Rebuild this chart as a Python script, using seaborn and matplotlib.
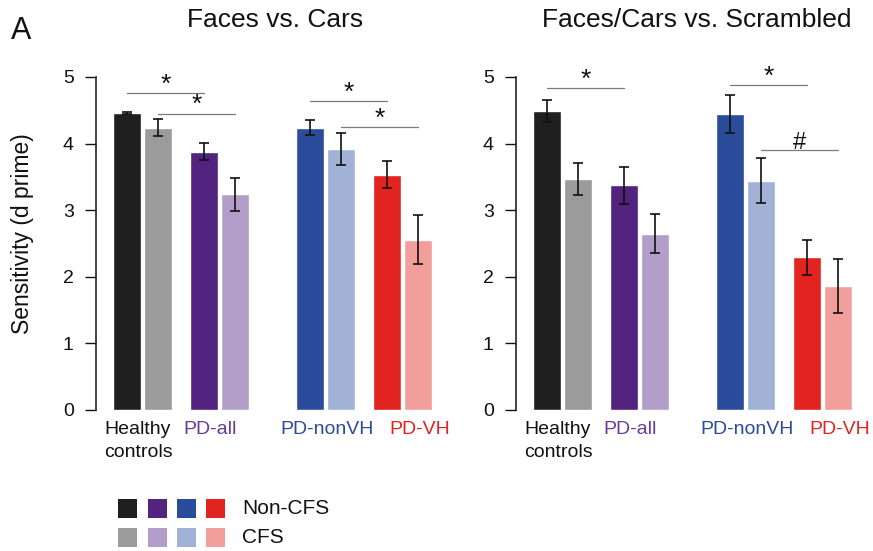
import numpy as np
import pandas as pd
import matplotlib
matplotlib.use("Agg")
import matplotlib.pyplot as plt
import seaborn as sns
from matplotlib.patches import Rectangle

# ---------------- data ----------------
groups = ["Healthy\ncontrols", "PD-all", "PD-nonVH", "PD-VH"]
conditions = ["Non-CFS", "CFS"]
panel_titles = ["Faces vs. Cars", "Faces/Cars vs. Scrambled"]

# Faces vs. Cars
fc_noncfs = [4.46, 3.88, 4.24, 3.535]
fc_noncfs_err = [0.012, 0.13, 0.11, 0.205]
fc_cfs = [4.24, 3.24, 3.92, 2.56]
fc_cfs_err = [0.13, 0.25, 0.24, 0.37]

# Faces/Cars vs. Scrambled
fs_noncfs = [4.49, 3.375, 4.45, 2.29]
fs_noncfs_err = [0.17, 0.275, 0.285, 0.265]
fs_cfs = [3.47, 2.65, 3.445, 1.86]
fs_cfs_err = [0.24, 0.30, 0.335, 0.41]

# significance brackets: (group_a, group_b, condition, height, label)
fc_sig = [(0, 1, "Non-CFS", 4.76, "*"), (0, 1, "CFS", 4.45, "*"),
          (2, 3, "Non-CFS", 4.64, "*"), (2, 3, "CFS", 4.25, "*")]
fs_sig = [(0, 1, "Non-CFS", 4.83, "*"), (2, 3, "Non-CFS", 4.88, "*"),
          (2, 3, "CFS", 3.90, "#")]

noncfs_colors = ["#1f1f1f", "#52237f", "#2b4c9b", "#e2231f"]
cfs_colors = ["#9b9b9b", "#b39dc9", "#a2b1d6", "#f29f9b"]
label_colors = ["#111111", "#6a3a9a", "#2b4c9b", "#e2231f"]

# ---------------- style ----------------
sns.set_theme(style="white")
FONT = ["Liberation Sans", "DejaVu Sans"]
plt.rcParams["font.family"] = FONT
plt.rcParams["text.color"] = "#111111"
plt.rcParams["ytick.labelcolor"] = "#111111"

W, H = 873, 551
fig = plt.figure(figsize=(W / 100, H / 100), dpi=100)

group_start = [0.0, 2.48, 5.9, 8.38]   # layout positions of the pairs
label_shift = [-0.12, -0.3, 0.05, 0.57]
px_unit = 31.0
xlim = (-1.0, 10.4)
ax_w = (xlim[1] - xlim[0]) * px_unit
y0_px, y5_px = 410, 77

palette = {}
for g, c1, c2 in zip(groups, noncfs_colors, cfs_colors):
    palette[g + "|Non-CFS"] = c1
    palette[g + "|CFS"] = c2


def build(non, non_err, cfs, cfs_err):
    rows = []
    for i, g in enumerate(groups):
        rows.append(dict(group=g, cond="Non-CFS", pos=group_start[i],
                         value=non[i], err=non_err[i]))
        rows.append(dict(group=g, cond="CFS", pos=group_start[i] + 1.0,
                         value=cfs[i], err=cfs_err[i]))
    df = pd.DataFrame(rows)
    df["key"] = df["group"] + "|" + df["cond"]
    return df


panels = [
    (build(fc_noncfs, fc_noncfs_err, fc_cfs, fc_cfs_err), fc_sig, 96),
    (build(fs_noncfs, fs_noncfs_err, fs_cfs, fs_cfs_err), fs_sig, 516),
]

for (df, sig, left_px), title in zip(panels, panel_titles):
    ax = fig.add_axes([left_px / W, (H - y0_px) / H, ax_w / W, (y0_px - y5_px) / H])
    sns.barplot(data=df, x="pos", y="value", hue="key", palette=palette,
                dodge=False, native_scale=True, width=0.9, saturation=1,
                errorbar=None, legend=False, ax=ax)
    ax.errorbar(df["pos"], df["value"], yerr=df["err"], fmt="none",
                ecolor="#111111", elinewidth=1.2, capsize=3.5, capthick=1.2)
    ax.set_xlim(*xlim)
    ax.set_ylim(0, 5)
    ax.set_yticks([0, 1, 2, 3, 4, 5])
    ax.set_yticklabels(["0", "1", "2", "3", "4", "5"])
    ax.set_xticks([])
    ax.set_xlabel("")
    ax.set_ylabel("")
    for s in ["top", "right", "bottom"]:
        ax.spines[s].set_visible(False)
    ax.spines["left"].set_color("#111111")
    ax.spines["left"].set_linewidth(1.1)
    ax.tick_params(axis="y", direction="out", length=8, width=1.0,
                   color="#111111", pad=8, labelsize=14, left=True)
    ax.patch.set_alpha(0)

    # group labels
    for i, g in enumerate(groups):
        ax.text(group_start[i] + 0.5 + label_shift[i], -0.17, g,
                ha="center", va="top", ma="left", fontsize=14,
                color=label_colors[i], linespacing=1.45, clip_on=False)

    # significance brackets
    for ga, gb, cond, h, lab in sig:
        off = 0.0 if cond == "Non-CFS" else 1.0
        xa = group_start[ga] + off
        xb = group_start[gb] + off
        ax.plot([xa, xb], [h, h], color="#7a7a7a", lw=0.9, clip_on=False)
        ax.text((xa + xb) / 2, h + 0.02, lab, ha="center", va="baseline",
                fontsize=19 if lab == "*" else 17, color="#111111", clip_on=False)

fig.text(275 / W, 1 - 20 / H, panel_titles[0], ha="center", va="center", fontsize=19)
fig.text(697 / W, 1 - 20 / H, panel_titles[1], ha="center", va="center", fontsize=19)
fig.text(11 / W, 1 - 31 / H, "A", ha="left", va="center", fontsize=22)
fig.text(23 / W, 1 - 234 / H, "Sensitivity (d prime)", rotation=90,
         ha="center", va="center", fontsize=16.5)

# legend
sq_x = [118, 148, 177, 206]
for row, (cols, lab) in enumerate([(noncfs_colors, conditions[0]), (cfs_colors, conditions[1])]):
    top = 499 + row * 29
    for x, c in zip(sq_x, cols):
        fig.add_artist(Rectangle((x / W, 1 - (top + 19) / H), 19 / W, 19 / H,
                                 transform=fig.transFigure, color=c, lw=0))
    fig.text(242 / W, 1 - (top + 9.5) / H, lab, ha="left", va="center", fontsize=15)

fig.savefig("out.png", dpi=100)
